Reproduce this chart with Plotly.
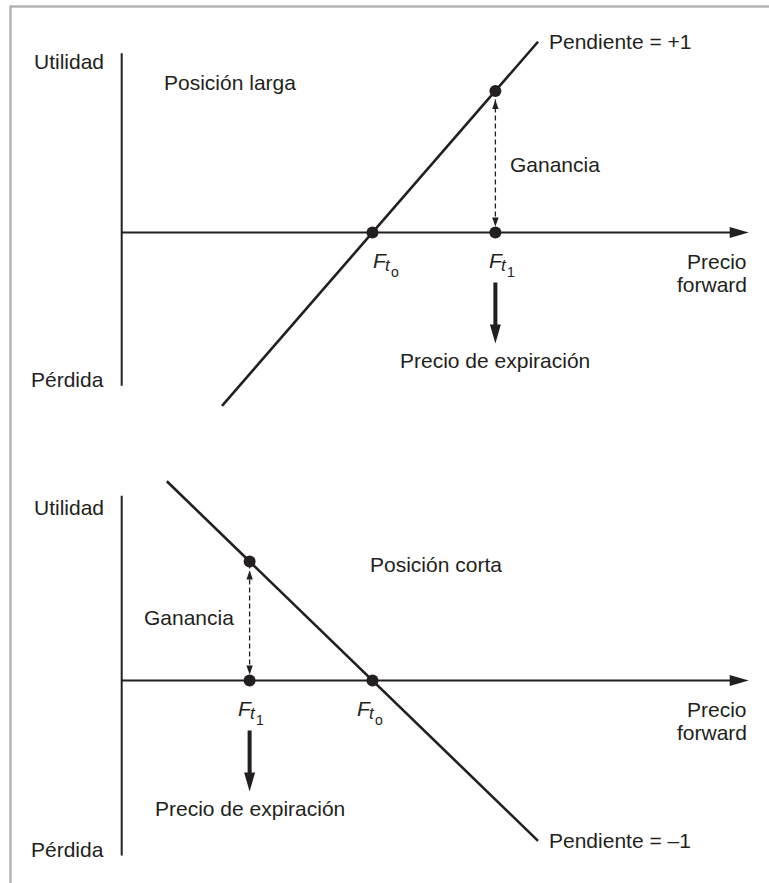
import plotly.graph_objects as go

# ---------------- data (conceptual units: forward price / profit) ----------------
long_line_price = [40, 166]
long_line_profit = [-60, 66]
long_f0 = 100
long_f1 = 149
long_f1_profit = 49

short_line_price = [18, 166]
short_line_profit = [82, -66]
short_f0 = 100
short_f1 = 51
short_f1_profit = 49

price_axis_end = 250
long_axis_profit = [-53, 62]
short_axis_profit = [-72, 76]

txt_profit = "Utilidad"
txt_loss = "Pérdida"
txt_long = "Posición larga"
txt_short = "Posición corta"
txt_slope_pos = "Pendiente = +1"
txt_slope_neg = "Pendiente = \u20131"
txt_gain = "Ganancia"
txt_price = ["Precio", "forward"]
txt_expiry = "Precio de expiración"

# ---------------- layout constants ----------------
W, H = 769, 883
INK = "#231f20"
FRAME = "#b3b3b3"
FONT = "Liberation Sans, Arial, sans-serif"
FS = 21

X_ORIGIN_PX, X_SCALE = 121.7, 2.508
Y1_ZERO_PX, Y1_SCALE = 232.5, 2.89
Y2_ZERO_PX, Y2_SCALE = 680.5, 2.43

x_range = [-X_ORIGIN_PX / X_SCALE, (W - X_ORIGIN_PX) / X_SCALE]
y1_range = [-(H - Y1_ZERO_PX) / Y1_SCALE, Y1_ZERO_PX / Y1_SCALE]
y2_range = [-(H - Y2_ZERO_PX) / Y2_SCALE, Y2_ZERO_PX / Y2_SCALE]

fig = go.Figure()

# payoff lines
fig.add_trace(go.Scatter(x=long_line_price, y=long_line_profit, mode="lines",
                         line=dict(color=INK, width=2.6), yaxis="y", hoverinfo="skip"))
fig.add_trace(go.Scatter(x=short_line_price, y=short_line_profit, mode="lines",
                         line=dict(color=INK, width=2.6), yaxis="y2", hoverinfo="skip"))
# dots
fig.add_trace(go.Scatter(x=[long_f0, long_f1, long_f1], y=[0, 0, long_f1_profit], mode="markers",
                         marker=dict(color=INK, size=12), yaxis="y", hoverinfo="skip"))
fig.add_trace(go.Scatter(x=[short_f0, short_f1, short_f1], y=[0, 0, short_f1_profit], mode="markers",
                         marker=dict(color=INK, size=12), yaxis="y2", hoverinfo="skip"))

shapes = []
# frame
shapes.append(dict(type="line", xref="paper", yref="paper", x0=10.5 / W, x1=1, y0=1 - 6.5 / H, y1=1 - 6.5 / H,
                   line=dict(color=FRAME, width=2.5), layer="below"))
shapes.append(dict(type="line", xref="paper", yref="paper", x0=10.5 / W, x1=10.5 / W, y0=0, y1=1 - 5.5 / H,
                   line=dict(color=FRAME, width=2.5), layer="below"))


def panel_shapes(yref, axis_profit, f1, f1_profit):
    s = []
    # vertical axis
    s.append(dict(type="line", xref="x", yref=yref, x0=0, x1=0, y0=axis_profit[0], y1=axis_profit[1],
                  line=dict(color=INK, width=2), layer="below"))
    # horizontal axis
    s.append(dict(type="line", xref="x", yref=yref, x0=0, x1=price_axis_end - 4, y0=0, y1=0,
                  line=dict(color=INK, width=2), layer="below"))
    s.append(dict(type="path", xref="x", yref=yref, xsizemode="pixel", ysizemode="pixel",
                  xanchor=price_axis_end, yanchor=0, path="M0,0 L-19,5.5 L-19,-5.5 Z",
                  fillcolor=INK, line=dict(width=0), layer="below"))
    # dashed gain arrow
    s.append(dict(type="line", xref="x", yref=yref, x0=f1, x1=f1, y0=0, y1=f1_profit,
                  line=dict(color=INK, width=1.3, dash="5px,3px"), layer="below"))
    s.append(dict(type="path", xref="x", yref=yref, xsizemode="pixel", ysizemode="pixel",
                  xanchor=f1, yanchor=f1_profit, path="M0,-9 L-3.2,-18 L3.2,-18 Z",
                  fillcolor=INK, line=dict(width=0), layer="below"))
    s.append(dict(type="path", xref="x", yref=yref, xsizemode="pixel", ysizemode="pixel",
                  xanchor=f1, yanchor=0, path="M0,6 L-3.2,15 L3.2,15 Z",
                  fillcolor=INK, line=dict(width=0), layer="below"))
    # expiry arrow
    s.append(dict(type="path", xref="x", yref=yref, xsizemode="pixel", ysizemode="pixel",
                  xanchor=f1, yanchor=0,
                  path="M-2,-50 L2,-50 L2,-92 L5.5,-92 L0,-111 L-5.5,-92 L-2,-92 Z",
                  fillcolor=INK, line=dict(width=0), layer="below"))
    return s


shapes += panel_shapes("y", long_axis_profit, long_f1, long_f1_profit)
shapes += panel_shapes("y2", short_axis_profit, short_f1, short_f1_profit)

ann = []


def t(x, y, yref, text, xanchor="left", xshift=0, yshift=0, size=FS, italic=False):
    ann.append(dict(x=x, y=y, xref="x", yref=yref, text=text, showarrow=False,
                    xanchor=xanchor, yanchor="middle", xshift=xshift, yshift=yshift,
                    font=dict(family=FONT, size=size, color=INK,
                              style="italic" if italic else "normal")))


def f_label(yref, x, idx, dx):
    t(x, 0, yref, "F", xanchor="left", xshift=dx - 2, yshift=-28, size=21, italic=True)
    t(x, 0, yref, "t", xanchor="left", xshift=dx + 10, yshift=-33, size=17, italic=True)
    t(x, 0, yref, idx, xanchor="left", xshift=dx + 16, yshift=-39, size=14)


# top panel
t(0, long_axis_profit[1], "y", txt_profit, xanchor="right", xshift=-16, yshift=-8)
t(0, long_axis_profit[0], "y", txt_loss, xanchor="right", xshift=-16, yshift=6)
t(0, long_axis_profit[1], "y", txt_long, xanchor="left", xshift=40, yshift=-29)
t(long_line_price[1], long_line_profit[1], "y", txt_slope_pos, xanchor="left", xshift=9)
t(long_f1, long_f1_profit / 2, "y", txt_gain, xanchor="left", xshift=13, yshift=-3)
t(price_axis_end, 0, "y", txt_price[0], xanchor="right", yshift=-29)
t(price_axis_end, 0, "y", txt_price[1], xanchor="right", yshift=-52)
t(long_f1, 0, "y", txt_expiry, xanchor="center", yshift=-128)
f_label("y", long_f0, "o", 0)
f_label("y", long_f1, "1", -6)

# bottom panel
t(0, short_axis_profit[1], "y2", txt_profit, xanchor="right", xshift=-16, yshift=-12)
t(0, short_axis_profit[0], "y2", txt_loss, xanchor="right", xshift=-16, yshift=6)
t(0, short_axis_profit[1], "y2", txt_short, xanchor="left", xshift=246, yshift=-69)
t(short_line_price[1], short_line_profit[1], "y2", txt_slope_neg, xanchor="left", xshift=9)
t(short_f1, short_f1_profit / 2, "y2", txt_gain, xanchor="right", xshift=-14, yshift=3)
t(price_axis_end, 0, "y2", txt_price[0], xanchor="right", yshift=-29)
t(price_axis_end, 0, "y2", txt_price[1], xanchor="right", yshift=-52)
t(short_f1, 0, "y2", txt_expiry, xanchor="center", yshift=-128)
f_label("y2", short_f1, "1", -12)
f_label("y2", short_f0, "o", -16)

fig.update_layout(
    width=W, height=H, margin=dict(l=0, r=0, t=0, b=0),
    paper_bgcolor="white", plot_bgcolor="white", showlegend=False,
    xaxis=dict(range=x_range, visible=False, fixedrange=True),
    yaxis=dict(range=y1_range, visible=False, fixedrange=True),
    yaxis2=dict(range=y2_range, visible=False, overlaying="y", fixedrange=True),
    shapes=shapes, annotations=ann,
)

fig.write_html("out.html", config={"displayModeBar": False},
               post_script="document.body.style.margin='0';document.body.style.overflow='hidden';")
